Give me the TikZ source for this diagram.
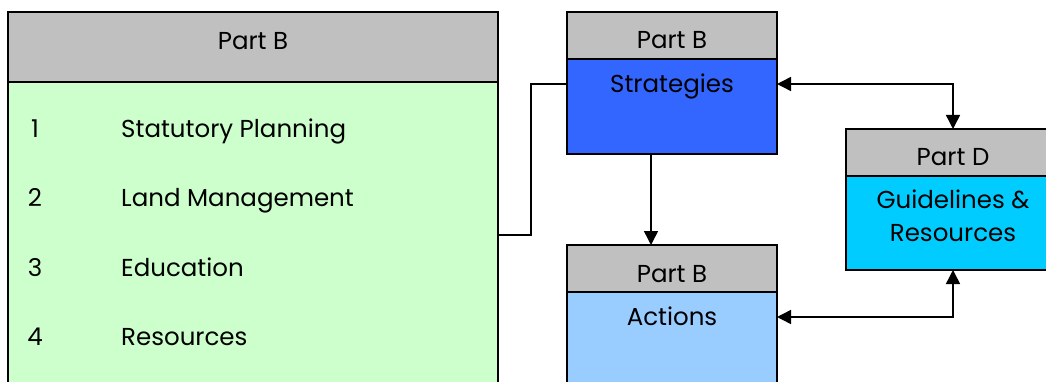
\documentclass[tikz,border=0pt]{standalone}
\usepackage{fontspec}
\setmainfont{Poppins}
\usetikzlibrary{arrows.meta}
\definecolor{hdrgrey}{HTML}{C0C0C0}
\definecolor{bodygreen}{HTML}{CCFFCC}
\definecolor{stratblue}{HTML}{3366FF}
\definecolor{actblue}{HTML}{99CCFF}
\definecolor{guidecyan}{HTML}{00CCFF}
\tikzset{
  box/.style={draw=black, line width=1.6pt, anchor=north west, inner sep=0pt, outer sep=0pt},
  hdr/.style={box, fill=hdrgrey},
  txt/.style={font=\fontsize{24.5}{33}\selectfont, inner sep=0pt, anchor=base},
  conn/.style={draw=black, line width=1.5pt},
  tip/.style={-{Triangle[length=14pt,width=14pt]}},
  tips/.style={{Triangle[length=14pt,width=14pt]}-{Triangle[length=14pt,width=14pt]}}
}
\begin{document}
\begin{tikzpicture}[x=1pt,y=-1pt]
\useasboundingbox (0,0) rectangle (1046,382);
\clip (0,0) rectangle (1046,382);
% big box
\node[box, fill=bodygreen, minimum width=490pt, minimum height=330pt] (bb) at (8,82) {};
\node[hdr, minimum width=490pt, minimum height=70pt] (bh) at (8,12) {};
\node[txt] (bht) at (253,50) {Part B};
\node[txt] (n1) at (35,138) {1};
\node[txt, anchor=base west] (t1) at (121,138) {Statutory Planning};
\node[txt] (n2) at (35,207) {2};
\node[txt, anchor=base west] (t2) at (121,207) {Land Management};
\node[txt] (n3) at (35,276) {3};
\node[txt, anchor=base west] (t3) at (121,276) {Education};
\node[txt] (n4) at (35,345) {4};
\node[txt, anchor=base west] (t4) at (121,345) {Resources};
% strategies
\node[box, fill=stratblue, minimum width=210pt, minimum height=95pt] (sb) at (567,59) {};
\node[hdr, minimum width=210pt, minimum height=47pt] (sh) at (567,12) {};
\node[txt] (sht) at (672,49) {Part B};
\node[txt] (sbt) at (672,93) {Strategies};
% actions
\node[box, fill=actblue, minimum width=210pt, minimum height=120pt] (ab) at (567,292) {};
\node[hdr, minimum width=210pt, minimum height=47pt] (ah) at (567,245) {};
\node[txt] (aht) at (672,282) {Part B};
\node[txt] (abt) at (672,325) {Actions};
% part D
\node[box, fill=guidecyan, minimum width=210pt, minimum height=94pt] (db) at (846,176) {};
\node[hdr, minimum width=210pt, minimum height=47pt] (dh) at (846,129) {};
\node[txt] (dht) at (953,166) {Part D};
\node[txt] (dbt1) at (953,208) {Guidelines \&};
\node[txt] (dbt2) at (953,241) {Resources};
% connectors
\draw[conn] (bb.east |- 0,235) -- (531,235) -- (531,84) -- (sb.west |- 0,84);
\draw[conn, tip] (sb.south -| 651,0) -- (ah.north -| 651,0);
\draw[conn, tips] (sb.east |- 0,84) -- (953,84) -- (dh.north -| 953,0);
\draw[conn, tips] (ab.east |- 0,317) -- (953,317) -- (db.south -| 953,0);
\end{tikzpicture}
\end{document}
